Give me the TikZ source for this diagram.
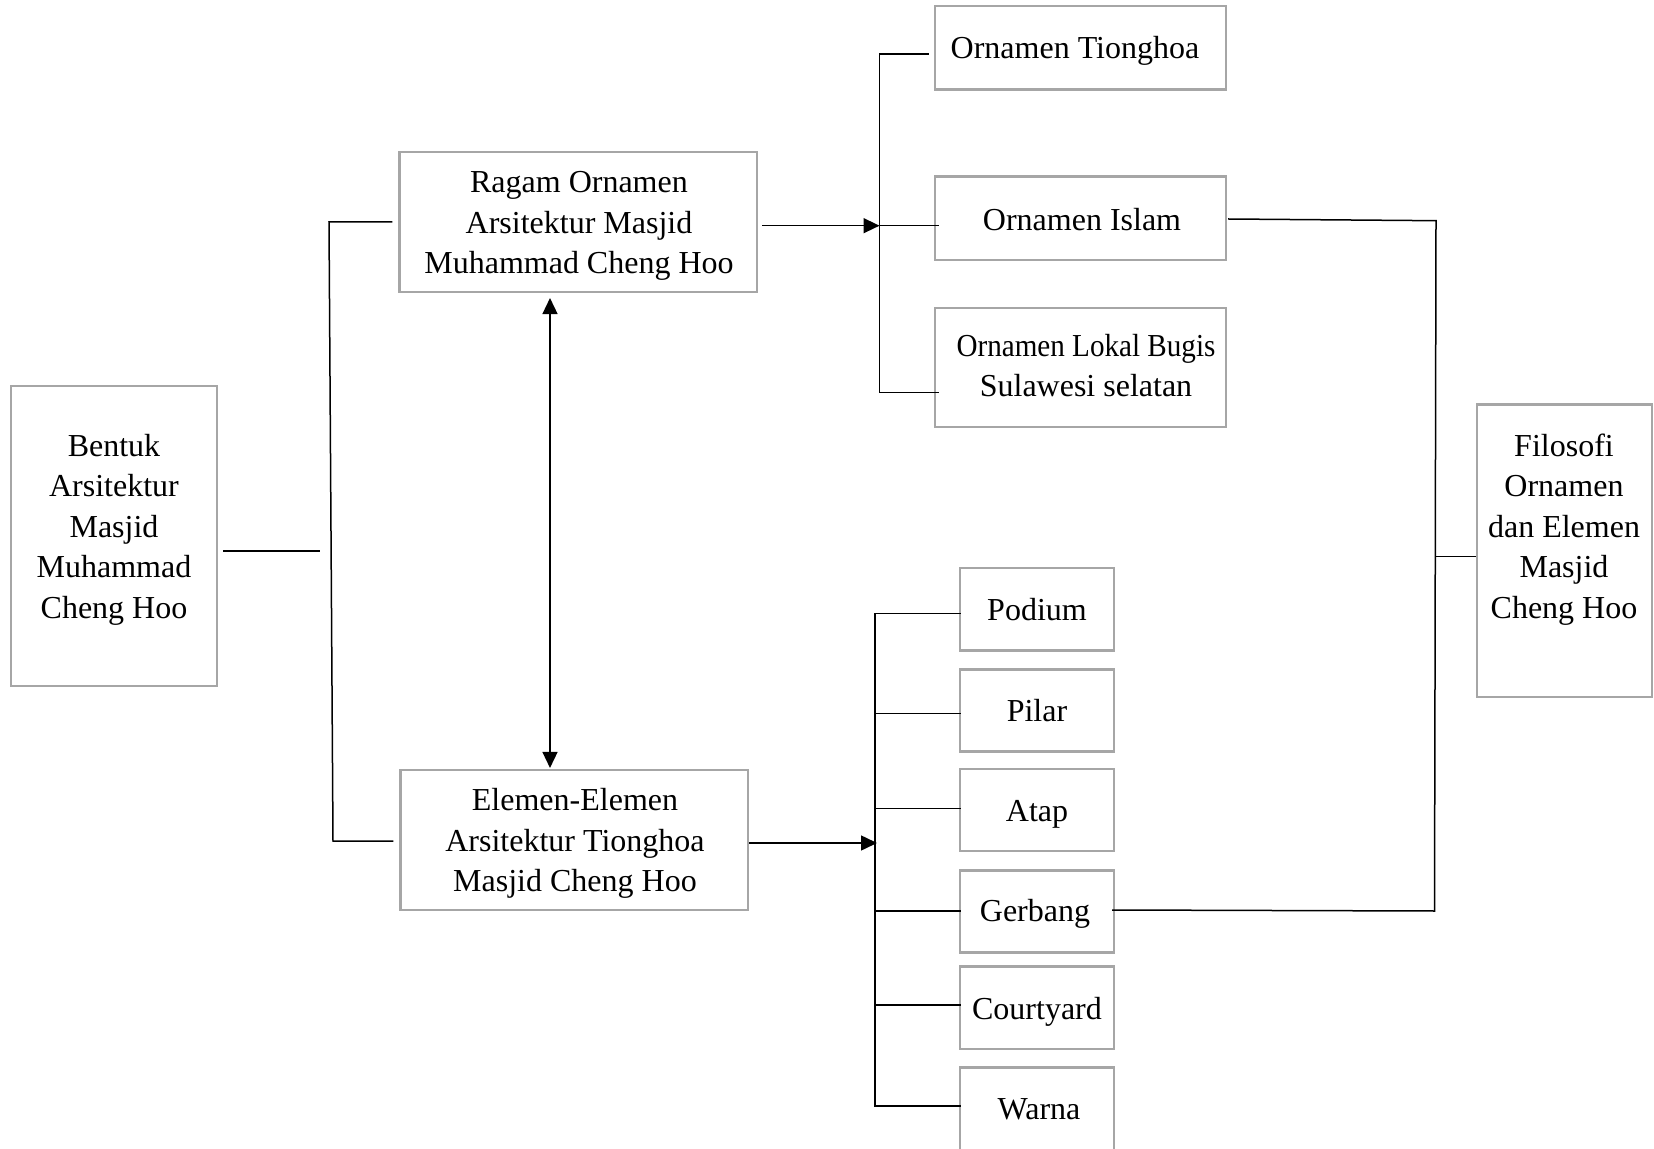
\documentclass[tikz,border=0pt]{standalone}
\usepackage{graphicx}
\usepackage{fontspec}
\setmainfont{Liberation Serif}
\usetikzlibrary{arrows.meta,calc}
\definecolor{boxgray}{HTML}{A6A6A6}
\newcommand{\ls}{\strut}
\begin{document}
\begin{tikzpicture}[x=0.5pt,y=-0.5pt,
  box/.style={draw=boxgray, line width=1.2pt, fill=white, inner sep=0pt},
  sbox/.style={box, minimum width=76.85pt, minimum height=41.15pt},
  obox/.style={box, minimum width=145.5pt},
  txt/.style={inner sep=0pt, align=center, text=black, font=\fontsize{16}{20.2}\selectfont},
  conn/.style={draw=black, line width=0.75pt},
  arr/.style={conn, -{Triangle[length=8pt,width=7.5pt]}},
  darr/.style={conn, {Triangle[length=8pt,width=7.5pt]}-{Triangle[length=8pt,width=7.5pt]}}
]
\useasboundingbox (0,0) rectangle (1654,1149);
\clip (0,0) rectangle (1654,1149);
\fill[white] (0,0) rectangle (1654,1149);

% boxes
\node[box, minimum width=103pt, minimum height=150pt] (bentuk) at (114,536) {};
\node[txt] (bentukT) at (114,529.3) {\ls Bentuk\\\ls Arsitektur\\\ls Masjid\\\ls Muhammad\\\ls Cheng Hoo};

\node[box, minimum width=178.75pt, minimum height=69.85pt] (ragam) at (578.3,222) {};
\node[txt] (ragamT) at (579,225) {\ls Ragam Ornamen\\\ls Arsitektur Masjid\\\ls Muhammad Cheng Hoo};

\node[box, minimum width=173.6pt, minimum height=69.85pt] (elemen) at (574.2,840) {};
\node[txt] (elemenT) at (575,843.2) {\ls Elemen-Elemen\\\ls Arsitektur Tionghoa\\\ls Masjid Cheng Hoo};

\node[obox, minimum height=41.65pt] (tionghoa) at (1080.5,47.7) {};
\node[txt] (tionghoaT) at (1075,50.8) {\ls Ornamen Tionghoa};
\node[obox, minimum height=41.65pt] (islam) at (1080.5,218.3) {};
\node[txt] (islamT) at (1082,222) {\ls Ornamen Islam};
\node[obox, minimum height=59.5pt] (bugis) at (1080.5,367.8) {};
\node[txt] (bugisT) at (1086,368.5) {\ls\scalebox{0.91}[1]{Ornamen Lokal Bugis}\\\ls Sulawesi selatan};

\node[box, minimum width=87.75pt, minimum height=146.15pt] (filosofi) at (1564.5,550.7) {};
\node[txt] (filosofiT) at (1564,529.2) {\ls Filosofi\\\ls Ornamen\\\ls dan Elemen\\\ls Masjid\\\ls Cheng Hoo};

\node[sbox] (podium) at (1037,609.2) {};
\node[txt] (podiumT) at (1037,612) {\ls Podium};
\node[sbox] (pilar) at (1037,710.5) {};
\node[txt] (pilarT) at (1037,713.3) {\ls Pilar};
\node[sbox] (atap) at (1037,809.9) {};
\node[txt] (atapT) at (1037,813.8) {\ls Atap};
\node[sbox] (gerbang) at (1037,911.5) {};
\node[txt] (gerbangT) at (1035,913.3) {\ls Gerbang};
\node[sbox] (courtyard) at (1037,1007.6) {};
\node[txt] (courtyardT) at (1037,1011.5) {\ls Courtyard};
\node[sbox, minimum height=48.8pt] (warna) at (1037,1116.2) {};
\node[txt] (warnaT) at (1039,1111) {\ls Warna};

% left bracket
\coordinate (lb) at (320,551);
\draw[conn] ($(bentuk.east |- lb)+(5,0)$) -- (lb);
\draw[conn] ($(ragam.west)+(-6,0)$) -- (329,222) -- (333,841) -- ($(elemen.west |- 0,841)+(-6,0)$);

% double arrow
\coordinate (vx) at (550,0);
\draw[darr] ($(ragam.south -| vx)+(0,5)$) -- ($(elemen.north -| vx)+(0,-1)$);

% ornament bracket
\coordinate (rb) at (879.5,225.7);
\draw[arr] ($(ragam.east |- rb)+(4,0)$) -- (rb);
\draw[conn] ($(tionghoa.west |- 0,54)+(-5,0)$) -- (879.5,54) -- (879.5,392.7) -- ($(bugis.west |- 0,392.7)+(5,0)$);
\draw[conn] (rb) -- ($(islam.west |- rb)+(5,0)$);

% filosofi connector
\coordinate (fa) at (1436,220.7);
\coordinate (fb) at (1434.5,911);
\coordinate (fm) at (1435.5,556.3);
\draw[conn] ($(islam.east |- 0,219)+(1,0)$) -- (fa) -- (fb) -- ($(gerbang.east |- 0,910)+(-3,0)$);
\draw[conn] (fm) -- (filosofi.west |- fm);

% element bracket
\coordinate (eb) at (877,843);
\draw[arr] (elemen.east |- eb) -- (eb);
\draw[conn] (875,613.4) -- (875,1105.8);
\foreach \n/\y in {podium/613.4, pilar/713.6, atap/808.3, gerbang/910.9, courtyard/1005.2, warna/1105.8}
  \draw[conn] (874,\y) -- ($(\n.west |- 0,\y)+(2,0)$);
\end{tikzpicture}
\end{document}
